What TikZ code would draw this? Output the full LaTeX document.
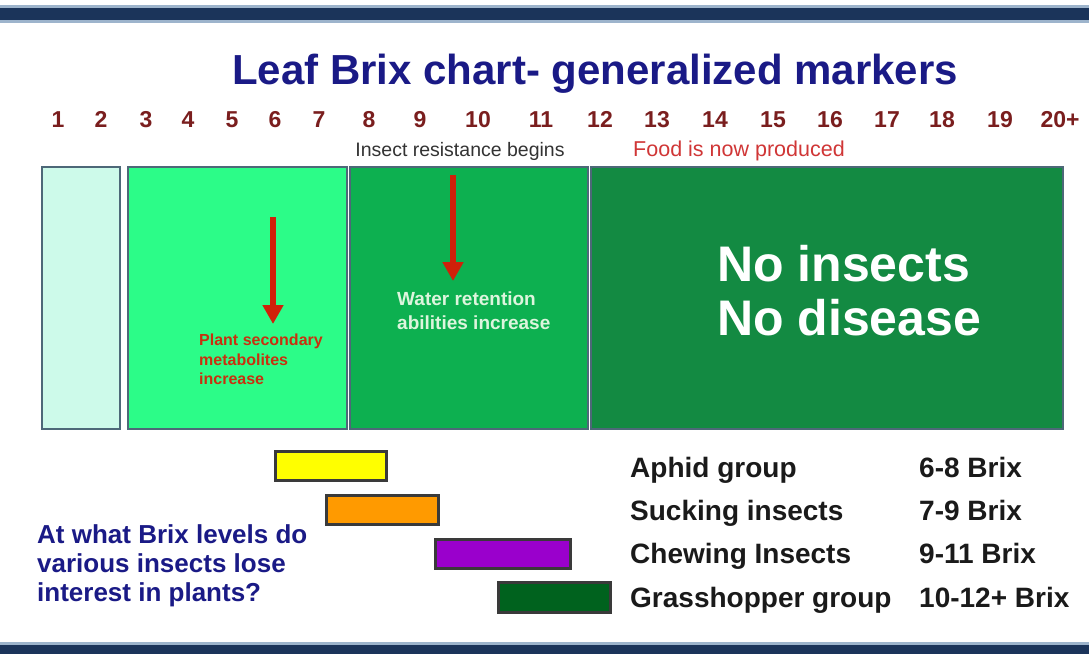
\documentclass[tikz,border=0pt]{standalone}
\usepackage{fontspec}
\setmainfont{Liberation Sans}
\usetikzlibrary{arrows.meta}
\definecolor{barnavy}{HTML}{1B345A}
\definecolor{barlight}{HTML}{9DB4CC}
\definecolor{titleblue}{HTML}{1A1A86}
\definecolor{numred}{HTML}{7A1E1E}
\definecolor{zoneborder}{HTML}{4D6878}
\definecolor{zoneA}{HTML}{CDFAEA}
\definecolor{zoneB}{HTML}{2CFC88}
\definecolor{zoneC}{HTML}{0DB050}
\definecolor{zoneD}{HTML}{138A42}
\definecolor{arrowred}{HTML}{D0200A}
\definecolor{plantred}{HTML}{C8300F}
\definecolor{waterwhite}{HTML}{DDF5DD}
\definecolor{foodred}{HTML}{D03636}
\definecolor{notegray}{HTML}{333333}
\definecolor{bardark}{HTML}{3A3A3A}
\definecolor{cyellow}{HTML}{FFFF00}
\definecolor{corange}{HTML}{FF9A00}
\definecolor{cpurple}{HTML}{9A00CC}
\definecolor{cgreen}{HTML}{00621E}
\definecolor{lbltext}{HTML}{1A1A1A}
\begin{document}
\begin{tikzpicture}[x=1pt,y=-1pt,
  num/.style={font=\fontsize{23}{26}\selectfont\bfseries, text=numred, anchor=base, inner sep=0pt},
  zone/.style={draw=zoneborder, line width=2pt, anchor=north west, inner sep=0pt},
  barbox/.style={draw=bardark, line width=2.5pt, anchor=north west, inner sep=0pt},
  lbl/.style={font=\fontsize{28}{32}\selectfont\bfseries, text=lbltext, anchor=base west, inner sep=0pt},
  redarrow/.style={draw=arrowred, line width=6.5pt, -{Triangle[width=20pt,length=19pt]}},
  note/.style={anchor=base, inner sep=0pt}
]
\useasboundingbox (0,0) rectangle (1089,654);
\fill[white] (0,0) rectangle (1089,654);
% top and bottom bands
\fill[barlight] (0,5) rectangle (1089,23);
\fill[barnavy] (0,8) rectangle (1089,20);
\fill[barlight] (0,642) rectangle (1089,654);
\fill[barnavy] (0,645) rectangle (1089,654);

% title
\node[font=\fontsize{42}{48}\selectfont\bfseries, text=titleblue, anchor=base, inner sep=0pt] (title) at (595,84) {Leaf Brix chart- generalized markers};

% scale numbers
\foreach \n/\x in {1/58,2/101,3/146,4/188,5/232,6/275,7/319,8/369,9/420,10/478,11/541,12/600,13/657,14/715,15/773,16/830,17/887,18/942,19/1000,20+/1060}
  \node[num] (n\n) at (\x,127) {\n};

\node[note, font=\fontsize{19.5}{22}\selectfont, text=notegray] (resist) at (460,156) {Insect resistance begins};
\node[note, font=\fontsize{21.5}{24}\selectfont, text=foodred] (food) at (739,156) {Food is now produced};

% zones
\node[zone, fill=zoneA, minimum width=78pt, minimum height=262pt] (z1) at (41,166) {};
\node[zone, fill=zoneB, minimum width=219pt, minimum height=262pt] (z2) at (127,166) {};
\node[zone, fill=zoneC, minimum width=238pt, minimum height=262pt] (z3) at (349,166) {};
\node[zone, fill=zoneD, minimum width=472pt, minimum height=262pt] (z4) at (590,166) {};

% red arrows
\coordinate (a1s) at (273,217);
\coordinate (a1e) at (273,324);
\coordinate (a2s) at (453,175);
\coordinate (a2e) at (453,281);
\draw[redarrow] (a1s) -- (a1e);
\draw[redarrow] (a2s) -- (a2e);

\node[font=\fontsize{16}{19.5}\selectfont\bfseries, text=plantred, anchor=north west, align=left, inner sep=0pt] (plant) at (199,334) {Plant secondary\\metabolites\\increase};
\node[font=\fontsize{19}{23.5}\selectfont\bfseries, text=waterwhite, anchor=north west, align=left, inner sep=0pt] (water) at (397,292) {Water retention\\abilities increase};

\node[font=\fontsize{50}{54}\selectfont\bfseries, text=white, anchor=base west, inner sep=0pt] (noins) at (717,281) {No insects};
\node[font=\fontsize{50}{54}\selectfont\bfseries, text=white, anchor=base west, inner sep=0pt] (nodis) at (717,335) {No disease};

% insect bars
\node[barbox, fill=cyellow, minimum width=111pt, minimum height=29pt] (b1) at (274,450) {};
\node[barbox, fill=corange, minimum width=112pt, minimum height=29pt] (b2) at (325,494) {};
\node[barbox, fill=cpurple, minimum width=135pt, minimum height=29pt] (b3) at (434,538) {};
\node[barbox, fill=cgreen, minimum width=112pt, minimum height=30pt] (b4) at (497,581) {};

\node[lbl] (l1) at (630,477) {Aphid group};
\node[lbl] (l2) at (630,520) {Sucking insects};
\node[lbl] (l3) at (630,563) {Chewing Insects};
\node[lbl] (l4) at (630,607) {Grasshopper group};
\node[lbl] (r1) at (919,477) {6-8 Brix};
\node[lbl] (r2) at (919,520) {7-9 Brix};
\node[lbl] (r3) at (919,563) {9-11 Brix};
\node[lbl] (r4) at (919,607) {10-12+ Brix};

\node[font=\fontsize{26}{29}\selectfont\bfseries, text=titleblue, anchor=north west, align=left, inner sep=0pt] (question) at (37,524) {At what Brix levels do\\various insects lose\\interest in plants?};
\end{tikzpicture}
\end{document}
